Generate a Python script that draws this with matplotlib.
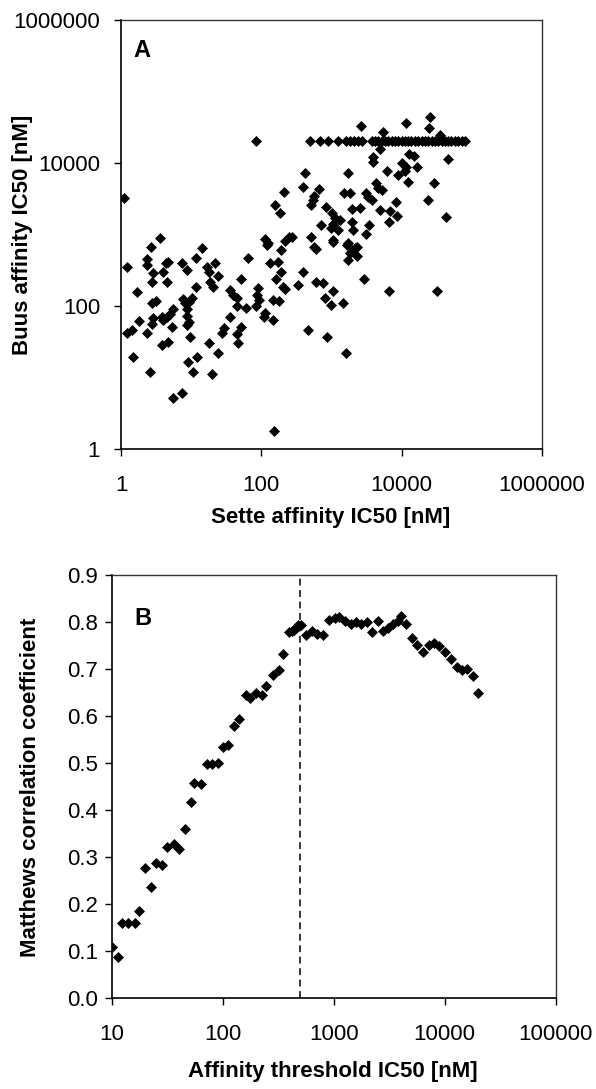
import matplotlib
matplotlib.use("Agg")
import matplotlib.pyplot as plt
from matplotlib.ticker import FixedLocator, FuncFormatter

plt.rcParams['font.family'] = ['Liberation Sans', 'DejaVu Sans']

# ---------------- Panel A data (Sette vs Buus IC50, nM) ----------------
sette_ic50 = [
    83, 1.11, 210, 158, 184, 3.6, 2.7, 14.1, 112, 126, 250, 217,
    1.2, 2.32, 2.32, 2.74, 2.88, 4.38, 4.72, 4.01, 4.48, 7.33, 8.63, 11.6,
    11.7, 16.6, 18.1, 21.8, 18.5, 20.7, 24.3, 65, 52, 35.7, 39.8, 45.4,
    44.5, 60, 119, 188, 133, 171, 188, 161, 217, 205, 329, 90,
    87, 93, 148, 180, 84, 112, 110, 145, 151, 1.2, 1.42, 1.47,
    1.71, 1.82, 2.32, 2.59, 2.74, 2.82, 2.74, 3.16, 3.8, 4.0, 4.5, 5.0,
    5.6, 3.8, 4.7, 5.4, 5.6, 7.3, 7.6, 8.2, 8.6, 9.4, 10.2, 8.8,
    9.2, 8.8, 9.6, 9.1, 10.7, 12.2, 18.1, 20, 24.3, 27.2, 29.3, 35.7,
    47, 45.4, 50.7,
    25200, 24700, 11700, 2620, 5460, 35000,
    492, 684, 898, 1250, 1600, 1830, 2080, 2400, 2680, 3720, 4150, 4630,
    5170, 5770, 6430, 7180, 8000, 8920, 9960, 11100, 12400, 13800, 15400, 17200,
    19200, 21400, 23900, 26700, 29700, 33100, 37000, 41200, 46000, 51300, 57300, 63800,
    71300, 79400,
    4890, 3850, 3930, 12800, 14900, 46000, 9950, 11700, 16300, 6080, 11100, 8910,
    12400, 1730, 418, 387, 668, 29000, 23900, 42700, 4290, 4620, 5180, 1500,
    1830, 3090, 3330, 3720, 561, 538, 504, 832, 8260, 1930, 2540, 4890,
    6790, 8630, 6500, 1000, 1120, 1320, 1060, 970, 1220, 700, 1930, 2040,
    3410, 3090, 270, 504, 561, 1060, 1730, 2280,
    600, 1060, 1670, 1830, 2150, 2280, 1730, 395, 600, 762, 1060, 805,
    970, 1470, 2900, 6640, 32400, 466, 851, 1600,
]
buus_ic50 = [
    20000, 3270, 3980, 2610, 2020, 885, 675, 641, 857, 767, 912, 818,
    348, 450, 374, 219, 286, 395, 417, 302, 219, 395, 318, 465,
    186, 355, 302, 395, 219, 186, 263, 474, 239, 167, 143, 128,
    100, 93, 713, 607, 404, 408, 302, 236, 171, 186, 197, 177,
    143, 121, 121, 119, 100, 79, 70, 64, 1.8, 42, 46, 19.5,
    155, 62, 42, 12, 56, 67, 111, 117, 71, 64, 71, 77,
    90, 28.5, 31.7, 51, 5.1, 6.1, 124, 109, 90, 115, 128, 72,
    60, 54, 36.5, 16.6, 12, 19.5, 30, 11.2, 22.2, 42, 49, 71,
    30, 40.6, 50.4,
    44500, 30500, 36600, 32900, 27400, 24700,
    20000, 20000, 20000, 20000, 20000, 20000, 20000, 20000, 20000, 20000, 20000, 20000,
    20000, 20000, 20000, 20000, 20000, 20000, 20000, 20000, 20000, 20000, 20000, 20000,
    20000, 20000, 20000, 20000, 20000, 20000, 20000, 20000, 20000, 20000, 20000, 20000,
    20000, 20000,
    15500, 12200, 10400, 13400, 12500, 11200, 9900, 8870, 8870, 7730, 7800, 6790,
    5480, 7180, 7310, 4570, 4290, 5310, 3040, 1770, 5200, 4430, 4190, 3850,
    3850, 3770, 3380, 3040, 3450, 3040, 2590, 2450, 2880, 2250, 2320, 2200,
    2150, 1830, 1510, 1980, 1690, 1600, 1400, 1220, 1160, 1360, 1510, 1160,
    1360, 1020, 930, 930, 675, 837, 753, 675,
    621, 794, 713, 546, 641, 500, 440, 302, 219, 207, 162, 128,
    103, 109, 236, 162, 162, 46, 36.5, 22.2,
]

# ---------------- Panel B data ----------------
threshold_ic50 = [
    10, 11.3, 12.4, 14.0, 16.0, 17.7, 19.9, 22.5, 24.8, 28.3, 31.6, 36.1, 39.8, 45.5, 51.2,
    54.8, 63, 71.8, 79.5, 90, 100, 111, 126, 141, 162, 176, 197, 224, 245, 282,
    320, 352, 398, 436, 474,
    417, 456, 502, 557, 631, 701, 794, 912, 1026, 1122, 1262, 1428, 1574, 1758, 2004,
    2196, 2488, 2795, 3103, 3443, 3770, 4036, 4448, 5043, 5665, 6414, 7266, 8057, 8939,
    10063, 11402, 12835, 14236, 15993, 18109, 19848,
]
matthews_cc = [
    0.108, 0.087, 0.160, 0.160, 0.160, 0.186, 0.276, 0.236, 0.287, 0.283, 0.321, 0.328, 0.316, 0.360, 0.417,
    0.458, 0.455, 0.497, 0.497, 0.500, 0.534, 0.538, 0.579, 0.593, 0.645, 0.638, 0.648, 0.645, 0.664, 0.687,
    0.697, 0.732, 0.779, 0.782, 0.793,
    0.781, 0.787, 0.794, 0.772, 0.781, 0.774, 0.772, 0.804, 0.808, 0.810, 0.803, 0.796, 0.801, 0.796, 0.799,
    0.779, 0.802, 0.781, 0.788, 0.795, 0.802, 0.813, 0.795, 0.767, 0.751, 0.737, 0.751, 0.756, 0.749,
    0.737, 0.721, 0.705, 0.698, 0.699, 0.685, 0.650,
]
cutoff_ic50 = 500

A_xticks = [1, 100, 10000, 1000000]
A_yticks = [1, 100, 10000, 1000000]
B_xticks = [10, 100, 1000, 10000, 100000]
B_yticks = [0.0, 0.1, 0.2, 0.3, 0.4, 0.5, 0.6, 0.7, 0.8, 0.9]

W, H = 596, 1089
fig = plt.figure(figsize=(W / 100, H / 100), dpi=100)

def px_axes(l, t, r, b):
    return fig.add_axes([l / W, 1 - b / H, (r - l) / W, (b - t) / H])

FS = 16

# ---------- Panel A ----------
axA = px_axes(121, 20, 542, 449)
axA.plot(sette_ic50, buus_ic50, ls='none', marker='D', ms=4.6, color='black', mec='black', mew=0.5)
axA.set_xscale('log')
axA.set_yscale('log')
axA.set_xlim(1, 1e6)
axA.set_ylim(1, 1e6)
axA.xaxis.set_major_locator(FixedLocator(A_xticks))
axA.yaxis.set_major_locator(FixedLocator(A_yticks))
axA.xaxis.set_minor_locator(FixedLocator([]))
axA.yaxis.set_minor_locator(FixedLocator([]))
fmt_int = FuncFormatter(lambda v, p: f"{int(round(v))}")
axA.xaxis.set_major_formatter(fmt_int)
axA.yaxis.set_major_formatter(fmt_int)
axA.tick_params(axis='x', direction='out', length=5, width=1, labelsize=FS, pad=14)
axA.tick_params(axis='y', direction='out', length=5, width=1, labelsize=FS, pad=10)
axA.text(0.03, 0.955, 'A', transform=axA.transAxes, fontsize=17, fontweight='bold', va='top', ha='left')
fig.text(331 / W, 1 - 517 / H, 'Sette affinity IC50 [nM]', fontsize=FS, fontweight='bold', ha='center', va='center')
fig.text(23 / W, 1 - 235 / H, 'Buus affinity IC50 [nM]', fontsize=FS, fontweight='bold', ha='center', va='center', rotation=90)

# ---------- Panel B ----------
axB = px_axes(112, 575, 555.5, 998)
axB.plot(threshold_ic50, matthews_cc, ls='none', marker='D', ms=4.9, color='black', mec='black', mew=0.5)
axB.axvline(cutoff_ic50, color='black', lw=1.1, ls=(0, (4.5, 3)))
axB.set_xscale('log')
axB.set_xlim(10, 100000)
axB.set_ylim(0, 0.9)
axB.xaxis.set_major_locator(FixedLocator(B_xticks))
axB.xaxis.set_minor_locator(FixedLocator([]))
axB.yaxis.set_major_locator(FixedLocator(B_yticks))
axB.xaxis.set_major_formatter(fmt_int)
axB.yaxis.set_major_formatter(FuncFormatter(lambda v, p: f"{v:.1f}"))
axB.tick_params(axis='x', direction='out', length=5, width=1, labelsize=FS, pad=14)
axB.tick_params(axis='y', direction='out', length=5, width=1, labelsize=FS, pad=5)
axB.text(0.05, 0.925, 'B', transform=axB.transAxes, fontsize=17, fontweight='bold', va='top', ha='left')
fig.text(333 / W, 1 - 1071 / H, 'Affinity threshold IC50 [nM]', fontsize=FS, fontweight='bold', ha='center', va='center')
fig.text(31 / W, 1 - 787 / H, 'Matthews correlation coefficient', fontsize=FS, fontweight='bold', ha='center', va='center', rotation=90)

for ax in (axA, axB):
    for side in ('left', 'bottom'):
        ax.spines[side].set_linewidth(1.2)
        ax.spines[side].set_color('black')
    for side in ('top', 'right'):
        ax.spines[side].set_linewidth(1.0)
        ax.spines[side].set_color('#333333')

fig.savefig('out.png', dpi=100)
